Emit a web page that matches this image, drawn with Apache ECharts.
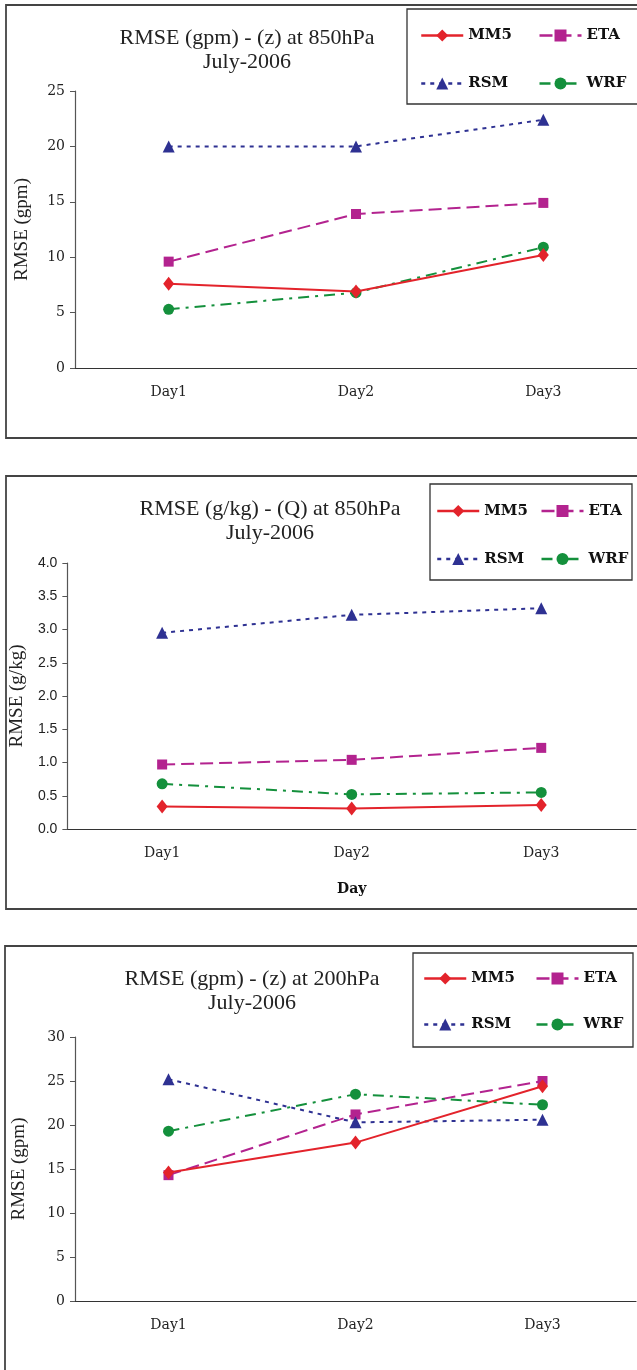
<!DOCTYPE html>
<html>
<head>
<meta charset="utf-8">
<script src="https://cdn.jsdelivr.net/npm/echarts@6/dist/echarts.min.js"></script>
<style>
  html, body { margin: 0; padding: 0; background: #fff; }
  #chart { width: 637px; height: 1370px; }
</style>
</head>
<body>
<div id="chart"></div>
<script>
const days = ["Day1", "Day2", "Day3"];
const models = ["MM5", "ETA", "RSM", "WRF"];

// panel 1 - geopotential height at 850hPa
const z850Ticks = [0, 5, 10, 15, 20, 25];
const z850MM5 = [7.6, 6.9, 10.2];
const z850ETA = [9.6, 13.9, 14.9];
const z850RSM = [20.0, 20.0, 22.4];
const z850WRF = [5.3, 6.8, 10.9];

// panel 2 - specific humidity at 850hPa
const q850Ticks = [0, 0.5, 1, 1.5, 2, 2.5, 3, 3.5, 4];
const q850MM5 = [0.34, 0.31, 0.36];
const q850ETA = [0.97, 1.04, 1.22];
const q850RSM = [2.95, 3.22, 3.32];
const q850WRF = [0.68, 0.52, 0.55];

// panel 3 - geopotential height at 200hPa
const z200Ticks = [0, 5, 10, 15, 20, 25, 30];
const z200MM5 = [14.6, 18.0, 24.4];
const z200ETA = [14.3, 21.2, 25.0];
const z200RSM = [25.2, 20.3, 20.6];
const z200WRF = [19.3, 23.5, 22.3];

const look = {
  MM5: { color: "#e3232b", symbol: "diamond", size: [11, 14], dash: "solid" },
  ETA: { color: "#b3238f", symbol: "rect", size: 10, dash: [13, 6] },
  RSM: { color: "#2e3192", symbol: "triangle", size: 12, dash: [4, 5] },
  WRF: { color: "#14903c", symbol: "circle", size: 11, dash: [11, 6, 3, 6] },
};

const panels = [
  { title: "RMSE (gpm) - (z) at 850hPa\nJuly-2006", titleX: 242, titleY: 21,
    yName: "RMSE (gpm)", nameGap: 43, ticks: z850Ticks, tickFont: "DejaVu Serif",
    data: { MM5: z850MM5, ETA: z850ETA, RSM: z850RSM, WRF: z850WRF },
    grid: { left: 75, top: 91, width: 564, height: 277 },
    legend: { left: 420, top: 24, textW: 45, gap: 25, lineH: 23 }, box: [407, 9, 240, 95] },
  { title: "RMSE (g/kg) - (Q) at 850hPa\nJuly-2006", titleX: 265, titleY: 492,
    yName: "RMSE (g/kg)", nameGap: 40, ticks: q850Ticks, tickFont: "Liberation Sans",
    xName: "Day",
    data: { MM5: q850MM5, ETA: q850ETA, RSM: q850RSM, WRF: q850WRF },
    grid: { left: 66, top: 563, width: 570, height: 266 },
    legend: { left: 436, top: 493, textW: 44, gap: 12, lineH: 36 }, box: [430, 484, 202, 96] },
  { title: "RMSE (gpm) - (z) at 200hPa\nJuly-2006", titleX: 247, titleY: 962,
    yName: "RMSE (gpm)", nameGap: 46, ticks: z200Ticks, tickFont: "DejaVu Serif",
    data: { MM5: z200MM5, ETA: z200ETA, RSM: z200RSM, WRF: z200WRF },
    grid: { left: 75, top: 1037, width: 561, height: 264 },
    legend: { left: 423, top: 965, textW: 45, gap: 19, lineH: 27 }, box: [413, 953, 220, 94] },
];

const option = {
  animation: false,
  backgroundColor: "#fff",
  title: panels.map((p) => ({
    text: p.title,
    left: p.titleX,
    top: p.titleY,
    textAlign: "center",
    textStyle: { fontFamily: "Liberation Serif", fontWeight: "normal", fontSize: 22, lineHeight: 24, color: "#222" },
  })),
  legend: panels.map((p) => ({
    data: models,
    left: p.legend.left,
    top: p.legend.top,
    width: 260,
    padding: 0,
    itemGap: p.legend.gap,
    itemWidth: 42,
    itemHeight: 15,
    lineStyle: { width: 2.5 },
    textStyle: {
      fontFamily: "DejaVu Serif", fontWeight: "bold", fontSize: 15, color: "#111",
      width: p.legend.textW, lineHeight: p.legend.lineH,
    },
  })),
  grid: panels.map((p) => p.grid),
  xAxis: panels.map((p, i) => ({
    type: "category",
    gridIndex: i,
    data: days,
    name: p.xName || "",
    nameLocation: "middle",
    nameGap: 53,
    nameTextStyle: { fontFamily: "DejaVu Serif", fontWeight: "bold", fontSize: 14, color: "#111" },
    axisLine: { lineStyle: { color: "#333", width: 1.2 } },
    axisTick: { length: 6, lineStyle: { color: "#333" } },
    axisLabel: { margin: 17, fontFamily: "DejaVu Serif", fontSize: 14, color: "#222" },
  })),
  yAxis: panels.map((p, i) => ({
    type: "value",
    gridIndex: i,
    min: p.ticks[0],
    max: p.ticks[p.ticks.length - 1],
    interval: p.ticks[1] - p.ticks[0],
    name: p.yName,
    nameLocation: "middle",
    nameGap: p.nameGap,
    nameTextStyle: { fontFamily: "Liberation Serif", fontSize: 19, color: "#222" },
    axisLine: { show: true, lineStyle: { color: "#555", width: 1.2 } },
    axisTick: { show: true, length: 5, lineStyle: { color: "#555" } },
    splitLine: { show: false },
    axisLabel: {
      margin: 10,
      fontFamily: p.tickFont,
      fontSize: 14,
      color: "#222",
      formatter: (v) => (p.tickFont === "Liberation Sans" ? v.toFixed(1) : String(v)),
    },
  })),
  series: [],
  graphic: [],
};

panels.forEach((p, i) => {
  models.forEach((m) => {
    const s = look[m];
    option.series.push({
      name: m,
      type: "line",
      xAxisIndex: i,
      yAxisIndex: i,
      data: p.data[m],
      symbol: s.symbol,
      symbolSize: s.size,
      showAllSymbol: true,
      itemStyle: { color: s.color },
      lineStyle: { color: s.color, width: 2, type: s.dash },
      z: m === "MM5" ? 3 : 2,
    });
  });
  option.graphic.push({
    type: "rect",
    shape: { x: p.box[0], y: p.box[1], width: p.box[2], height: p.box[3] },
    style: { fill: "none", stroke: "#333", lineWidth: 1.3 },
    silent: true,
  });
});

// outer frames of the three panels
option.graphic.push(
  { type: "rect", shape: { x: 6, y: 5, width: 650, height: 433 }, style: { fill: "none", stroke: "#444", lineWidth: 1.8 }, silent: true },
  { type: "rect", shape: { x: 6, y: 476, width: 650, height: 433 }, style: { fill: "none", stroke: "#444", lineWidth: 1.8 }, silent: true },
  { type: "rect", shape: { x: 5, y: 946, width: 650, height: 440 }, style: { fill: "none", stroke: "#444", lineWidth: 1.8 }, silent: true }
);

const chart = echarts.init(document.getElementById("chart"));
chart.setOption(option);
</script>
</body>
</html>
